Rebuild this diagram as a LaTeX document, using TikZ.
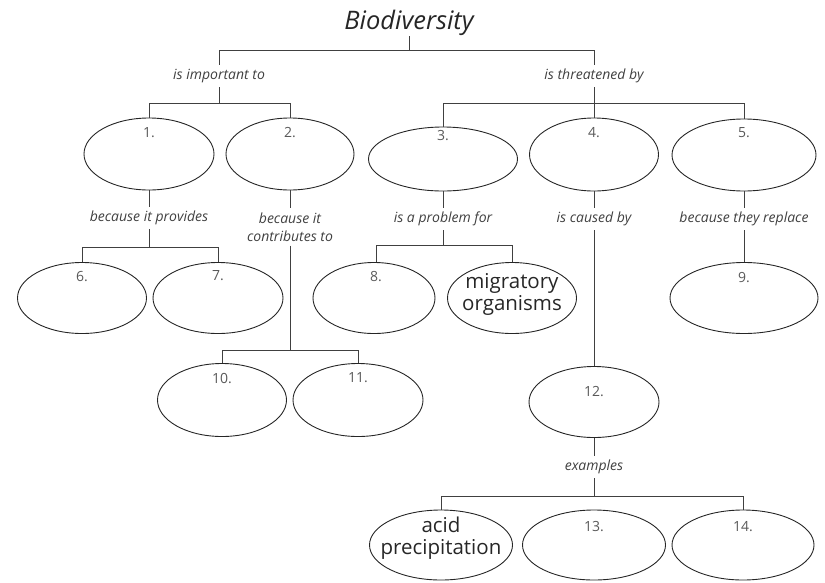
\documentclass[tikz,border=0pt]{standalone}
\usepackage{fontspec}
\setmainfont{Open Sans}
\usetikzlibrary{shapes.geometric}
\begin{document}
\begin{tikzpicture}[x=1pt,y=-1pt,
  bubble/.style={ellipse, draw=black!85, line width=0.9pt, inner sep=0pt},
  wire/.style={draw=black!75, line width=0.8pt},
  lab/.style={font=\itshape\fontsize{14}{18}\selectfont, text=black!75, inner sep=4pt, align=center},
  num/.style={font=\fontsize{14}{16}\selectfont, text=black!65, inner sep=0pt},
  bigtxt/.style={font=\fontsize{20.5}{22}\selectfont, text=black!85, inner sep=0pt, align=center}]
\useasboundingbox (0,0) rectangle (825,582);

% title
\node[font=\itshape\fontsize{25.5}{28}\selectfont, text=black!85, inner sep=1pt, anchor=base] (title) at (409,29) {Biodiversity};

% level 1 labels
\node[lab] (l1) at (219,76) {is important to};
\node[lab] (l2) at (594,76) {is threatened by};

% row 1 ellipses
\node[bubble, minimum width=130, minimum height=72] (e1) at (149,154) {};
\node[bubble, minimum width=128, minimum height=72] (e2) at (290,154) {};
\node[bubble, minimum width=149, minimum height=64] (e3) at (443,159) {};
\node[bubble, minimum width=129, minimum height=73] (e4) at (594,154.5) {};
\node[bubble, minimum width=144, minimum height=72] (e5) at (744,155) {};

% level 2 labels
\node[lab] (l3) at (149,218) {because it provides};
\node[lab] (l4) at (290,227) {because it\\contributes to};
\node[lab] (l5) at (443,219) {is a problem for};
\node[lab] (l6) at (594,219) {is caused by};
\node[lab] (l7) at (744,219) {because they replace};

% row 2 ellipses
\node[bubble, minimum width=129, minimum height=71] (e6) at (82,298) {};
\node[bubble, minimum width=130, minimum height=71] (e7) at (218,298) {};
\node[bubble, minimum width=122, minimum height=71] (e8) at (374,298) {};
\node[bubble, minimum width=129, minimum height=71] (emig) at (512,298) {};
\node[bubble, minimum width=148, minimum height=71] (e9) at (744,298) {};

% row 3 ellipses
\node[bubble, minimum width=129, minimum height=73] (e10) at (222,400) {};
\node[bubble, minimum width=130, minimum height=73] (e11) at (358,400) {};
\node[bubble, minimum width=130, minimum height=71] (e12) at (594,402) {};

\node[lab] (l8) at (594,467) {examples};

% row 4 ellipses
\node[bubble, minimum width=143, minimum height=70] (eacid) at (441,545) {};
\node[bubble, minimum width=143, minimum height=70] (e13) at (594,545) {};
\node[bubble, minimum width=142, minimum height=70] (e14) at (743,545) {};

% texts in ellipses
\node[bigtxt] (tmig) at ([yshift=4pt]emig.center) {migratory\\organisms};
\node[bigtxt] (tacid) at ([yshift=7pt]eacid.center) {acid\\precipitation};

\node[num] (n1) at ([yshift=-15pt]e1.north) {1.};
\node[num] (n2) at ([yshift=-15pt]e2.north) {2.};
\node[num] (n3) at ([yshift=-9pt]e3.north) {3.};
\node[num] (n4) at ([yshift=-15pt]e4.north) {4.};
\node[num] (n5) at ([yshift=-14pt]e5.north) {5.};
\node[num] (n6) at ([yshift=-14pt]e6.north) {6.};
\node[num] (n7) at ([yshift=-14pt]e7.north) {7.};
\node[num] (n8) at ([xshift=2pt,yshift=-14pt]e8.north) {8.};
\node[num] (n9) at ([yshift=-15pt]e9.north) {9.};
\node[num] (n10) at ([yshift=-15pt]e10.north) {10.};
\node[num] (n11) at ([yshift=-15pt]e11.north) {11.};
\node[num] (n12) at ([yshift=-25pt]e12.north) {12.};
\node[num] (n13) at ([yshift=-17pt]e13.north) {13.};
\node[num] (n14) at ([yshift=-17pt]e14.north) {14.};

% connectors
\coordinate (b1) at (409,50);
\coordinate (b2) at (0,103);
\coordinate (b4) at (0,247);
\coordinate (b5) at (0,245);
\coordinate (b6) at (0,350);
\coordinate (b7) at (0,496);

\draw[wire] (title.south) -- (b1);
\draw[wire] (l1.north) -- (l1.north |- b1) -- (l2.north |- b1) -- (l2.north);

\draw[wire] (l1.south) -- (l1.south |- b2);
\draw[wire] (e1.north) -- (e1.north |- b2) -- (e2.north |- b2) -- (e2.north);
\draw[wire] (l2.south) -- (e4.north);
\draw[wire] (e3.north) -- (e3.north |- b2) -- (e5.north |- b2) -- (e5.north);

\draw[wire] (e1.south) -- (l3.north);
\draw[wire] (e2.south) -- (l4.north);
\draw[wire] (e3.south) -- (l5.north);
\draw[wire] (e4.south) -- (l6.north);
\draw[wire] (e5.south) -- (l7.north);

\draw[wire] (l3.south) -- (l3.south |- b4);
\draw[wire] (e6.north) -- (e6.north |- b4) -- (e7.north |- b4) -- (e7.north);

\draw[wire] (l5.south) -- (l5.south |- b5);
\draw[wire] (n8.north |- e8.north) -- (n8.north |- b5) -- (emig.north |- b5) -- (emig.north);

\draw[wire] (l7.south) -- (e9.north);

\draw[wire] (l4.south) -- (l4.south |- b6);
\draw[wire] (e10.north) -- (e10.north |- b6) -- (e11.north |- b6) -- (e11.north);

\draw[wire] (l6.south) -- (e12.north);
\draw[wire] (e12.south) -- (l8.north);
\draw[wire] (l8.south) -- (l8.south |- b7);
\draw[wire] (eacid.north) -- (eacid.north |- b7) -- (e14.north |- b7) -- (e14.north);
\end{tikzpicture}
\end{document}
